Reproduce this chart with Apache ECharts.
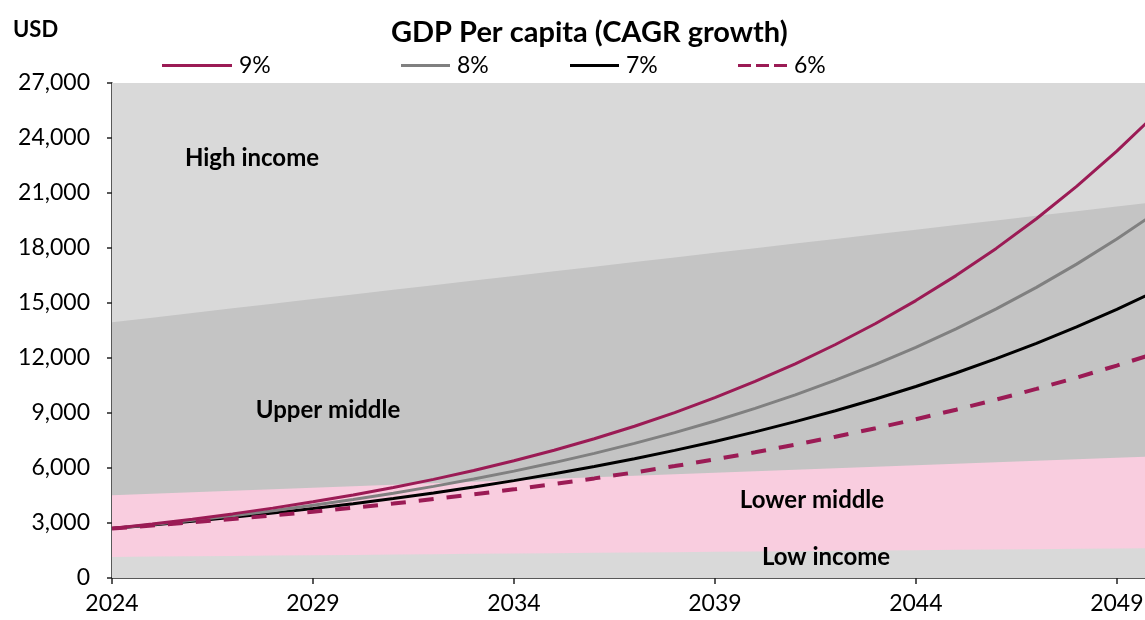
<!DOCTYPE html>
<html><head><meta charset="utf-8">
<script src="https://cdn.jsdelivr.net/npm/echarts@6/dist/echarts.min.js"></script>
<style>html,body{margin:0;padding:0;background:#fff}#c{width:1145px;height:620px}</style>
</head><body><div id="c"></div>
<script>
const years = [2024,2025,2026,2027,2028,2029,2030,2031,2032,2033,2034,2035,2036,2037,2038,2039,2040,2041,2042,2043,2044,2045,2046,2047,2048,2049,2050];
const xTicks = [2024,2029,2034,2039,2044,2049];
// band upper bounds (USD)
const lowIncomeTop   = [1150,1168,1187,1205,1224,1242,1261,1279,1298,1316,1335,1353,1372,1390,1409,1427,1446,1464,1483,1501,1520,1538,1557,1575,1594,1612,1630];
const lowerMiddleTop = [4520,4602,4683,4765,4847,4928,5010,5092,5174,5255,5337,5419,5500,5582,5664,5745,5827,5909,5991,6072,6154,6236,6317,6399,6481,6562,6645];
const upperMiddleTop = [13950,14202,14455,14707,14960,15212,15465,15717,15970,16222,16475,16727,16980,17232,17485,17737,17990,18242,18495,18747,19000,19252,19505,19757,20010,20262,20515];
const highIncomeTop  = [27000,27000,27000,27000,27000,27000,27000,27000,27000,27000,27000,27000,27000,27000,27000,27000,27000,27000,27000,27000,27000,27000,27000,27000,27000,27000,27000];
// GDP per capita paths
const g9 = [2700,2943,3208,3497,3811,4154,4528,4936,5380,5864,6392,6967,7594,8278,9023,9835,10720,11685,12736,13883,15132,16494,17978,19596,21360,23282,25378];
const g8 = [2700,2916,3149,3401,3673,3967,4285,4627,4998,5397,5829,6295,6799,7343,7930,8565,9250,9990,10789,11652,12585,13591,14679,15853,17121,18491,19970];
const g7 = [2700,2889,3091,3308,3539,3787,4052,4336,4639,4964,5311,5683,6081,6507,6962,7449,7971,8529,9126,9765,10448,11180,11962,12800,13696,14654,15680];
const g6 = [2700,2862,3034,3216,3409,3613,3830,4060,4303,4562,4835,5125,5433,5759,6104,6471,6859,7271,7707,8169,8659,9179,9730,10313,10932,11588,12283];
const seriesNames = ['9%','8%','7%','6%'];
const bandLabels = ['High income','Upper middle','Lower middle','Low income'];

const FONT = 'Lato, "Noto Sans", sans-serif';
const pair = arr => years.map((y,i)=>[y,arr[i]]);

const bandSeries = (name, arr, color) => ({
  name, type:'line', data: pair(arr), symbol:'none', silent:true,
  lineStyle:{width:0}, areaStyle:{color, opacity:1, origin:'start'}, z:1
});
const lineSeries = (name, arr, color, type, width) => ({
  name, type:'line', data: pair(arr), symbol:'none', showSymbol:false, smooth:false, z:5,
  lineStyle:{color, width, type}, itemStyle:{color}
});
const red = '#9b1b55';
const SOLID = 'path://M0,0h49v3h-49z';
const DASH = 'path://M0,0h13v3h-13z M18,0h13v3h-13z M36,0h13v3h-13z';
const SOLID9 = 'path://M0,0h70v3h-70z';
const legendAt = (name, icon, left, w) => ({
  data:[{name, icon}], left, top:54, padding:0, itemWidth:w, itemHeight:3, itemGap:0,
  textStyle:{fontFamily:FONT, fontSize:23, color:'#000', padding:[0,0,0,2]}, selectedMode:false
});
const bandText = (i, x, y) => ({type:'text', x, y, z:10, style:{text:bandLabels[i], fontFamily:FONT, fontSize:24, fontWeight:'bold', fill:'#000', align:'center', verticalAlign:'middle'}});

const chart = echarts.init(document.getElementById('c'), null, {renderer:'canvas'});
chart.setOption({
  animation:false,
  backgroundColor:'#fff',
  title:{text:'GDP Per capita (CAGR growth)', left:386, top:13,
    textStyle:{fontFamily:FONT, fontSize:29, fontWeight:'bold', color:'#000'}},
  legend:[legendAt(seriesNames[0],SOLID9,162,70), legendAt(seriesNames[1],SOLID,401,49), legendAt(seriesNames[2],SOLID,570,49), legendAt(seriesNames[3],DASH,738,49)],
  grid:{left:112, right:-12, top:83, bottom:42, outerBoundsMode:'none', containLabel:false},
  xAxis:{type:'value', min:2024, max:2050, interval:5,
    axisLine:{show:true, lineStyle:{color:'#222', width:1.5}},
    axisTick:{show:true, length:6, lineStyle:{color:'#222', width:1.5}},
    axisLabel:{fontFamily:FONT, fontSize:23, color:'#000', margin:14,
      formatter:v=> xTicks.includes(v) ? String(v) : ''},
    splitLine:{show:false}},
  yAxis:{type:'value', min:0, max:27000, interval:3000,
    axisLine:{show:true, lineStyle:{color:'#222', width:1.5}},
    axisTick:{show:true, length:5, lineStyle:{color:'#222', width:1.5}},
    axisLabel:{fontFamily:FONT, fontSize:23, color:'#000', margin:22,
      formatter:v=>v.toLocaleString('en-US')},
    splitLine:{show:false}},
  graphic:[
    {type:'text', x:13, y:30, z:10, style:{text:'USD', fontFamily:FONT, fontSize:22, fontWeight:'bold', fill:'#000', align:'left', verticalAlign:'middle'}},
    bandText(0,252,158), bandText(1,328,410), bandText(2,812,500), bandText(3,826,557)
  ],
  series:[
    bandSeries('b3', highIncomeTop, '#d9d9d9'),
    bandSeries('b2', upperMiddleTop, '#c4c4c4'),
    bandSeries('b1', lowerMiddleTop, '#f9cddf'),
    bandSeries('b0', lowIncomeTop, '#d9d9d9'),
    lineSeries(seriesNames[2], g7, '#000', 'solid', 3),
    lineSeries(seriesNames[1], g8, '#808080', 'solid', 3),
    lineSeries(seriesNames[0], g9, red, 'solid', 3),
    lineSeries(seriesNames[3], g6, red, [15,13], 4)
  ]
});
</script></body></html>
